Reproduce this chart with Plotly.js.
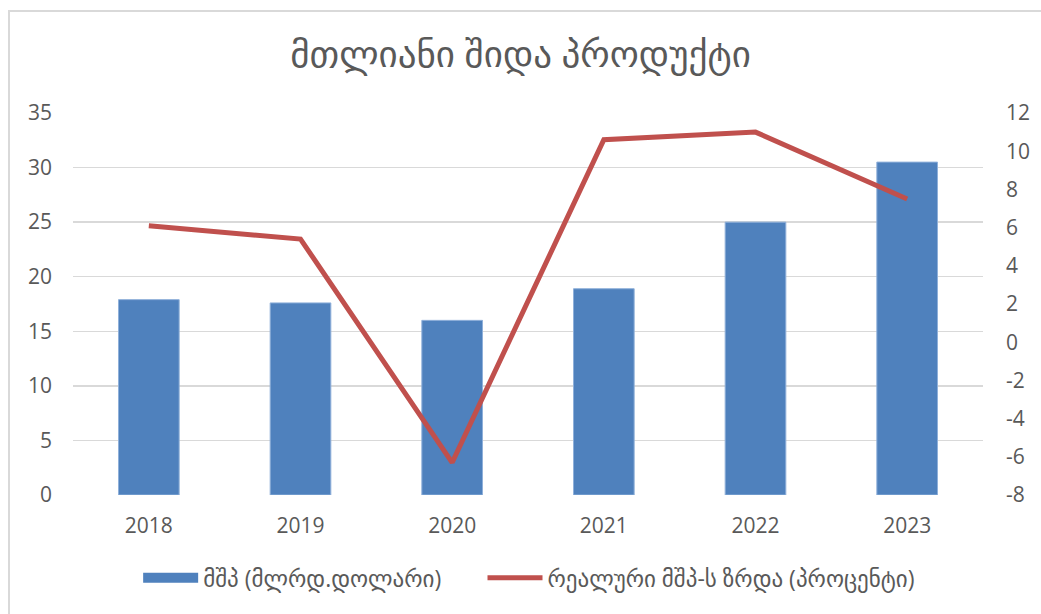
<!DOCTYPE html>
<html>
<head>
<meta charset="utf-8">
<script src="https://cdn.plot.ly/plotly-3.0.1.min.js"></script>
<style>
html,body{margin:0;padding:0;background:#fff;}
#wrap{position:relative;width:1041px;height:614px;}
#chart{width:1041px;height:614px;}
#frame{position:absolute;left:8px;top:10px;width:1040px;height:610px;border-left:2px solid #d9d9d9;border-top:2px solid #d9d9d9;pointer-events:none;}
</style>
</head>
<body>
<div id="wrap"><div id="chart"></div><div id="frame"></div></div>
<script>
const years = ['2018','2019','2020','2021','2022','2023'];
const gdpBillionUSD = [17.9, 17.6, 16.0, 18.9, 25.0, 30.5];
const realGrowthPct = [6.1, 5.4, -6.3, 10.6, 11.0, 7.5];
const leftTicks = [0,5,10,15,20,25,30,35];
const rightTicks = [-8,-6,-4,-2,0,2,4,6,8,10,12];
const titleText = 'მთლიანი შიდა პროდუქტი';
const barName = 'მშპ (მლრდ.დოლარი)';
const lineName = 'რეალური მშპ-ს ზრდა (პროცენტი)';

const FONT = '"Open Sans", "DejaVu Sans", sans-serif';
const GRAY = '#595959';
const BAR = '#4f81bd';
const LINE = '#c0504d';

const traces = [
  {type:'bar', x: years, y: gdpBillionUSD, name: barName, showlegend:false,
   marker:{color:BAR, line:{color:'#8fb0da', width:1}}, yaxis:'y'},
  // legend-only entry so the bar key is drawn as a wide block like the original
  {type:'scatter', mode:'lines', x:[null], y:[null], name: barName,
   line:{color:BAR, width:14}, yaxis:'y', legend:'legend'},
  {type:'scatter', mode:'lines', x: years, y: realGrowthPct, name: lineName,
   line:{color:LINE, width:5}, yaxis:'y2', legend:'legend2'}
];

const legendBase = {orientation:'h', y:-0.217, yanchor:'middle', xanchor:'left', font:{size:23, color:GRAY}, itemwidth:55, bgcolor:'rgba(0,0,0,0)'};

const layout = {
  width:1041, height:614,
  margin:{l:73, r:58, t:113, b:119},
  paper_bgcolor:'#fff', plot_bgcolor:'#fff',
  font:{family:FONT, color:GRAY, size:21},
  title:{text:titleText, font:{family:FONT, size:37, color:GRAY}, x:0.5, xanchor:'center', y:0.912, yanchor:'middle'},
  bargap:0.6,
  showlegend:true,
  legend: Object.assign({}, legendBase, {x:0.0716}),
  legend2: Object.assign({}, legendBase, {x:0.450}),
  xaxis:{type:'category', showgrid:false, zeroline:false, showline:false, ticks:'', ticklabelstandoff:16, tickfont:{size:21, color:GRAY}},
  yaxis:{range:[0,35], tickvals:leftTicks, ticktext:leftTicks.map(String), showgrid:true, gridcolor:'#d9d9d9', gridwidth:1.5, zeroline:false, showline:false, ticks:'', ticklabelstandoff:20, tickfont:{size:21, color:GRAY}},
  yaxis2:{range:[-8,12], tickvals:rightTicks, ticktext:rightTicks.map(String), overlaying:'y', side:'right', showgrid:false, zeroline:false, showline:false, ticks:'', ticklabelstandoff:22, tickfont:{size:21, color:GRAY}}
};

Plotly.newPlot('chart', traces, layout, {displayModeBar:false, staticPlot:true});
</script>
</body>
</html>
